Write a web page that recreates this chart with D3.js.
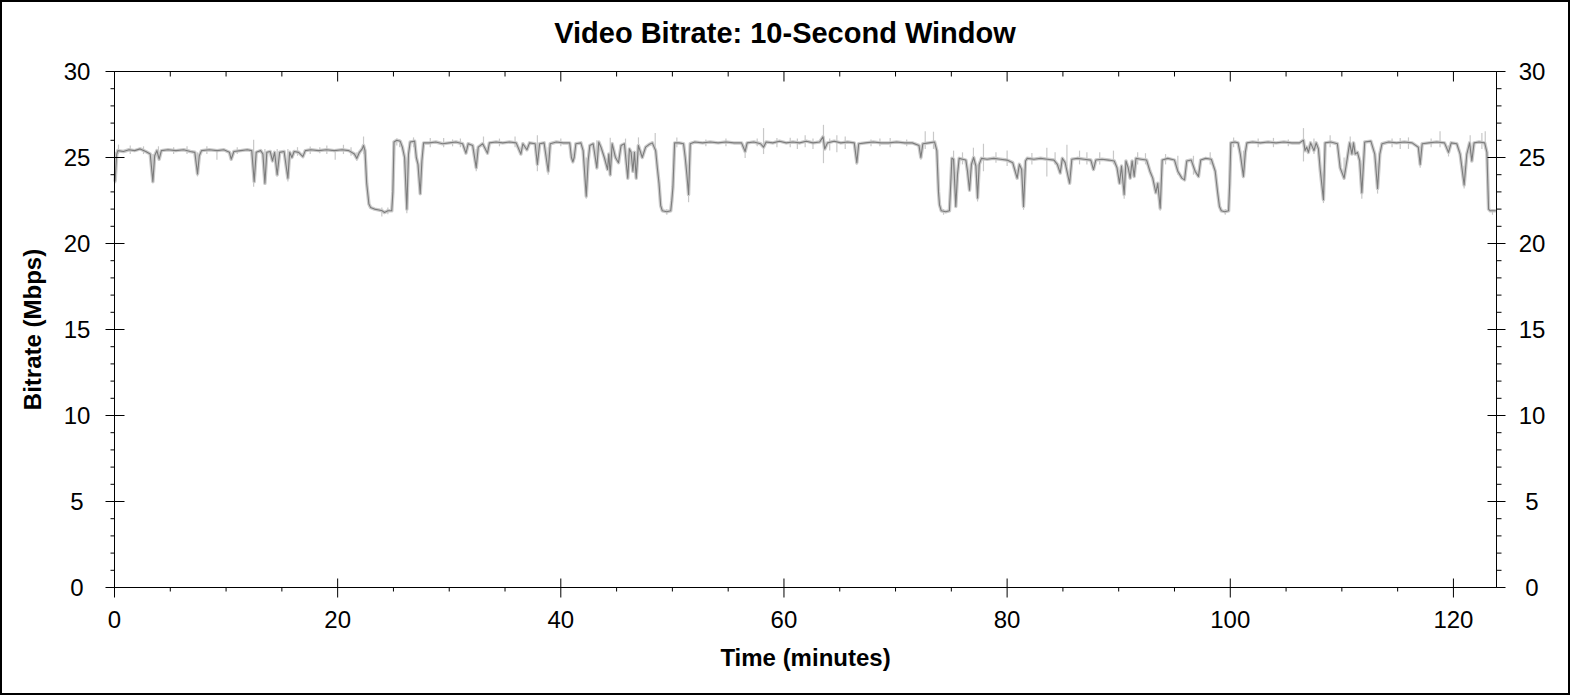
<!DOCTYPE html>
<html>
<head>
<meta charset="utf-8">
<script src="https://cdn.jsdelivr.net/npm/d3@7"></script>
<style>
  body { margin: 0; background: #fff; }
  svg { display: block; font-family: Arial, "Liberation Sans", sans-serif; }
</style>
</head>
<body>
<svg id="chart"></svg>
<script>
const chartTitle = "Video Bitrate: 10-Second Window";
const xTitle = "Time (minutes)";
const yTitle = "Bitrate (Mbps)";
const xMax = 123.86;
const yMax = 30;
const xTickLabels = [0, 20, 40, 60, 80, 100, 120];
const yTickLabels = [0, 5, 10, 15, 20, 25, 30];
const xMinorStep = 5;
const yMinorStep = 1;

// [minute, Mbps] - 10 second window average
const bitrate = [
  [0.05, 23.6], [0.2, 25.2], [0.3, 25.4], [0.8, 25.35], [1.3, 25.45], [1.8, 25.4], [2.3, 25.5], [2.8, 25.35],
  [3.2, 25.2], [3.44, 23.6], [3.6, 25.1], [3.8, 25.4], [4.0, 24.9], [4.2, 25.4], [4.8, 25.45], [5.5, 25.4],
  [6.2, 25.45], [6.8, 25.35], [7.2, 25.3], [7.44, 24.05], [7.6, 25.1], [7.8, 25.4], [8.5, 25.45], [9.2, 25.4],
  [9.8, 25.45], [10.3, 25.3], [10.46, 24.9], [10.7, 25.35], [11.3, 25.4], [11.9, 25.45], [12.3, 25.4], [12.52, 23.6],
  [12.7, 25.3], [13.1, 25.4], [13.3, 25.2], [13.48, 23.5], [13.65, 25.3], [13.95, 25.35], [14.16, 24.8], [14.35, 25.3],
  [14.58, 24.0], [14.8, 25.3], [15.2, 25.35], [15.54, 23.8], [15.7, 25.3], [15.9, 25.0], [16.1, 25.35], [16.5, 25.3],
  [16.88, 25.05], [17.1, 25.4], [17.6, 25.45], [18.3, 25.4], [19.0, 25.45], [19.7, 25.4], [20.4, 25.45], [21.0, 25.4],
  [21.5, 25.2], [21.72, 24.95], [21.95, 25.3], [22.2, 25.5], [22.32, 25.7], [22.45, 25.4], [22.6, 23.5], [22.8, 22.3],
  [22.95, 22.1], [23.3, 22.0], [23.7, 21.95], [24.0, 21.9], [24.2, 21.8], [24.5, 21.9], [24.85, 21.9], [24.95, 23.0],
  [25.05, 25.9], [25.3, 26.0], [25.6, 25.95], [25.8, 25.6], [26.0, 25.0], [26.2, 22.0], [26.35, 25.2], [26.5, 25.9],
  [26.9, 25.95], [27.05, 25.0], [27.2, 24.6], [27.4, 22.9], [27.55, 24.8], [27.7, 25.85], [28.2, 25.85], [28.8, 25.9],
  [29.4, 25.8], [30.0, 25.85], [30.6, 25.9], [31.2, 25.8], [31.5, 25.25], [31.7, 25.8], [32.1, 25.7], [32.42, 24.4],
  [32.6, 25.6], [33.0, 25.8], [33.43, 25.25], [33.6, 25.85], [34.2, 25.9], [34.8, 25.85], [35.4, 25.9], [36.0, 25.85],
  [36.42, 25.2], [36.6, 25.8], [36.96, 25.45], [37.2, 25.85], [37.7, 25.8], [37.9, 24.6], [38.1, 25.8], [38.5, 25.85],
  [38.87, 24.2], [39.05, 25.8], [39.6, 25.9], [40.2, 25.85], [40.8, 25.85], [40.95, 25.0], [41.08, 24.75], [41.2, 25.0],
  [41.35, 25.8], [41.8, 25.85], [42.0, 25.4], [42.28, 22.75], [42.45, 24.8], [42.6, 25.7], [42.9, 25.8], [43.23, 24.4],
  [43.4, 25.9], [43.6, 25.6], [43.9, 25.0], [44.19, 24.3], [44.3, 25.2], [44.43, 24.0], [44.6, 25.8], [44.9, 25.0],
  [45.17, 24.7], [45.4, 25.7], [45.7, 25.8], [46.0, 23.8], [46.15, 25.5], [46.3, 25.3], [46.46, 24.2], [46.6, 25.3],
  [46.76, 23.8], [46.95, 25.7], [47.3, 25.0], [47.6, 25.6], [47.9, 25.75], [48.2, 25.85], [48.5, 25.4], [48.65, 24.4],
  [48.8, 23.5], [48.95, 22.2], [49.1, 21.9], [49.5, 21.85], [49.85, 21.9], [49.95, 22.5], [50.05, 23.3], [50.2, 25.85],
  [50.6, 25.85], [51.0, 25.8], [51.15, 25.0], [51.3, 24.0], [51.45, 22.85], [51.6, 25.8], [52.0, 25.9], [52.7, 25.85],
  [53.4, 25.9], [54.1, 25.85], [54.8, 25.9], [55.5, 25.85], [56.2, 25.85], [56.52, 25.35], [56.7, 25.85], [57.3, 25.9],
  [57.9, 25.8], [58.17, 25.6], [58.4, 25.9], [59.0, 25.85], [59.6, 25.95], [60.2, 25.85], [60.8, 25.9], [61.4, 25.85],
  [62.0, 25.95], [62.6, 25.85], [63.2, 25.9], [63.5, 26.2], [63.65, 25.5], [63.9, 25.85], [64.5, 25.95], [65.1, 25.85],
  [65.7, 25.9], [66.3, 25.85], [66.53, 24.7], [66.7, 25.8], [67.3, 25.85], [68.0, 25.9], [68.7, 25.85], [69.4, 25.85],
  [70.1, 25.9], [70.8, 25.85], [71.5, 25.85], [72.1, 25.7], [72.27, 25.0], [72.45, 25.8], [73.0, 25.85], [73.5, 25.9],
  [73.7, 25.4], [73.85, 23.0], [73.94, 22.25], [74.1, 21.9], [74.5, 21.85], [74.83, 21.9], [74.95, 23.5], [75.05, 24.95],
  [75.2, 24.9], [75.4, 22.15], [75.55, 24.0], [75.7, 24.95], [76.0, 24.9], [76.3, 24.85], [76.45, 24.2], [76.63, 23.1],
  [76.8, 24.6], [77.0, 25.0], [77.2, 24.5], [77.35, 22.65], [77.5, 24.6], [77.7, 24.95], [78.2, 24.9], [78.8, 24.95],
  [79.4, 24.9], [80.0, 24.85], [80.5, 24.7], [80.72, 24.2], [80.9, 23.8], [81.1, 24.6], [81.3, 24.3], [81.47, 22.15],
  [81.65, 24.8], [81.8, 24.95], [82.4, 24.9], [83.0, 24.95], [83.6, 24.9], [84.2, 24.85], [84.5, 24.6], [84.76, 24.1],
  [84.95, 24.95], [85.2, 24.7], [85.6, 23.5], [85.8, 24.9], [86.3, 24.95], [86.9, 24.9], [87.5, 24.85], [87.74, 24.3],
  [87.95, 24.85], [88.5, 24.9], [89.1, 24.85], [89.6, 24.8], [89.85, 24.4], [90.07, 23.5], [90.25, 24.5], [90.49, 22.85],
  [90.65, 24.8], [90.85, 24.4], [91.03, 23.8], [91.2, 24.8], [91.39, 23.9], [91.55, 24.95], [92.0, 24.9], [92.5, 24.85],
  [92.8, 24.2], [93.05, 23.8], [93.33, 22.95], [93.5, 23.5], [93.72, 22.05], [93.9, 24.85], [94.4, 24.95], [95.0, 24.85],
  [95.3, 24.2], [95.66, 23.8], [95.9, 23.7], [96.1, 24.8], [96.5, 24.85], [96.85, 24.2], [97.15, 23.9], [97.35, 24.85],
  [97.8, 24.95], [98.3, 24.9], [98.65, 24.2], [98.86, 23.0], [99.03, 22.15], [99.2, 21.9], [99.5, 21.85], [99.85, 21.9],
  [99.95, 23.5], [100.05, 25.85], [100.4, 25.9], [100.7, 25.85], [100.9, 25.2], [101.18, 23.9], [101.35, 25.3], [101.49, 25.85],
  [102.0, 25.9], [102.7, 25.85], [103.4, 25.9], [104.1, 25.85], [104.8, 25.9], [105.5, 25.85], [106.2, 25.85], [106.56, 26.0],
  [106.7, 25.4], [106.85, 25.6], [107.0, 25.3], [107.2, 25.85], [107.5, 25.4], [107.7, 25.85], [107.9, 25.5], [108.06, 24.3],
  [108.35, 22.55], [108.5, 25.85], [109.0, 25.9], [109.6, 25.8], [109.85, 24.4], [110.2, 23.8], [110.45, 24.8], [110.7, 25.85],
  [110.9, 25.2], [111.05, 25.85], [111.2, 25.2], [111.4, 25.3], [111.6, 24.8], [111.79, 22.95], [112.05, 25.9], [112.6, 25.95],
  [112.95, 25.2], [113.2, 23.2], [113.4, 25.2], [113.6, 25.8], [114.2, 25.9], [114.9, 25.85], [115.6, 25.9], [116.3, 25.85],
  [116.85, 25.6], [117.02, 24.6], [117.2, 25.8], [117.8, 25.85], [118.5, 25.9], [119.2, 25.85], [119.56, 25.3], [119.8, 25.85],
  [120.3, 25.8], [120.6, 25.2], [120.96, 23.4], [121.2, 25.2], [121.45, 25.85], [121.65, 24.8], [121.85, 25.85], [122.3, 25.9],
  [122.8, 25.85], [123.0, 25.3], [123.15, 22.0], [123.3, 21.9], [123.8, 21.9]
];

// [minute, low, high] - excursions of the raw (unsmoothed) trace
const rawSpikes = [
  [0.1, 23.5, 25.3], [0.36, 25.2, 25.75], [1.41, 25.2, 25.7], [2.6, 25.2, 25.65], [3.44, 23.5, 25.2], [3.94, 25.0, 25.65],
  [5.3, 25.2, 25.6], [6.5, 25.2, 25.65], [7.44, 23.9, 25.3], [8.28, 25.2, 25.65], [9.18, 24.87, 25.5], [11.0, 25.2, 25.6],
  [12.47, 23.3, 26.03], [13.48, 23.4, 25.5], [14.58, 23.9, 25.5], [15.54, 23.6, 25.5], [16.4, 25.1, 25.6], [17.54, 25.2, 25.64],
  [18.4, 25.25, 25.6], [19.03, 25.2, 25.7], [19.78, 24.87, 25.5], [20.52, 25.2, 25.74], [21.2, 25.1, 25.6], [21.72, 24.8, 25.3],
  [22.32, 25.2, 26.22], [23.96, 21.57, 22.1], [24.5, 21.7, 22.1], [25.3, 25.7, 26.1], [25.55, 25.6, 26.05], [26.2, 21.76, 22.3],
  [26.8, 25.6, 26.17], [27.4, 22.8, 23.2], [28.3, 25.6, 26.14], [29.5, 25.6, 26.14], [30.3, 25.65, 26.05], [31.0, 25.6, 26.1],
  [32.42, 24.2, 25.5], [33.07, 25.6, 26.22], [34.5, 25.65, 26.1], [35.9, 25.6, 26.22], [37.9, 24.2, 26.3], [38.87, 24.0, 25.6],
  [40.0, 25.65, 26.1], [41.08, 24.67, 25.2], [42.28, 22.6, 25.0], [43.23, 24.3, 26.0], [44.43, 23.9, 26.15], [45.8, 25.3, 26.1],
  [46.96, 25.4, 26.17], [48.46, 25.3, 26.42], [49.5, 21.67, 22.0], [50.4, 25.6, 26.17], [51.45, 22.4, 23.0], [53.0, 25.65, 26.05],
  [54.8, 25.65, 26.1], [56.52, 24.97, 25.6], [57.6, 25.65, 26.1], [58.17, 25.2, 26.71], [59.37, 25.6, 26.14], [60.56, 25.6, 26.15],
  [61.2, 25.5, 26.1], [61.9, 25.6, 26.29], [62.6, 25.5, 26.1], [63.54, 24.67, 26.9], [64.1, 25.4, 26.1], [64.74, 25.3, 26.29],
  [65.49, 25.5, 26.22], [66.53, 24.58, 25.5], [67.8, 25.65, 26.05], [68.6, 25.65, 26.1], [69.52, 25.6, 26.14], [71.0, 25.65, 26.05],
  [72.27, 24.87, 25.6], [72.66, 25.5, 26.52], [73.4, 25.5, 26.5], [74.3, 21.67, 22.0], [75.2, 24.6, 25.4], [76.0, 24.6, 25.3],
  [76.98, 24.6, 25.57], [77.35, 22.44, 24.0], [77.88, 24.2, 25.8], [79.0, 24.7, 25.3], [80.0, 24.5, 25.4], [81.47, 21.96, 22.4],
  [82.22, 24.6, 25.26], [83.56, 23.9, 25.56], [84.3, 24.6, 25.3], [85.36, 24.5, 25.74], [86.49, 24.6, 25.4], [87.15, 24.6, 25.3],
  [88.3, 24.6, 25.3], [89.53, 24.6, 25.4], [90.49, 22.6, 24.0], [91.7, 24.6, 25.3], [92.4, 24.6, 25.25], [93.72, 21.9, 22.4],
  [94.2, 24.6, 25.2], [95.3, 24.0, 25.1], [96.7, 24.0, 25.1], [98.2, 24.6, 25.3], [99.55, 21.67, 22.0], [100.3, 25.6, 26.17],
  [101.18, 23.8, 25.4], [102.5, 25.6, 26.1], [103.87, 25.6, 26.14], [105.2, 25.65, 26.05], [106.56, 24.77, 26.71], [107.5, 25.2, 26.1],
  [108.35, 22.35, 24.0], [108.95, 25.6, 26.29], [110.2, 23.7, 25.0], [110.75, 25.5, 26.22], [111.79, 22.6, 24.0], [113.2, 22.9, 24.5],
  [114.5, 25.6, 26.1], [115.23, 25.5, 26.14], [115.97, 25.5, 26.17], [117.02, 24.4, 25.6], [118.0, 25.6, 26.1], [118.8, 25.6, 26.52],
  [119.56, 25.06, 25.7], [120.96, 23.2, 24.5], [121.5, 25.4, 26.29], [122.55, 25.5, 26.42], [122.85, 25.5, 26.52], [123.5, 21.67, 22.0]
];

const width = 1570, height = 695;
const margin = { top: 71.5, right: 73.5, bottom: 107.5, left: 114.5 };

const svg = d3.select('#chart').attr('width', width).attr('height', height);

const x = d3.scaleLinear().domain([0, xMax]).range([margin.left, width - margin.right]);
const y = d3.scaleLinear().domain([0, yMax]).range([height - margin.bottom, margin.top]);

const xMinor = d3.range(0, xMax, xMinorStep).filter(v => !xTickLabels.includes(v));
const yMinor = d3.range(0, yMax, yMinorStep).filter(v => !yTickLabels.includes(v));

// outer frame
svg.append('rect')
  .attr('x', 1).attr('y', 1)
  .attr('width', width - 2).attr('height', height - 2)
  .attr('fill', '#fff')
  .attr('stroke', '#000')
  .attr('stroke-width', 2);

// data
const plot = svg.append('g');

const line = d3.line().x(d => x(d[0])).y(d => y(d[1]));

plot.append('path')
  .datum(bitrate)
  .attr('d', line)
  .attr('fill', 'none')
  .attr('stroke', '#cccccc')
  .attr('stroke-width', 3.5)
  .attr('stroke-linejoin', 'round');

plot.selectAll('.spike')
  .data(rawSpikes)
  .enter().append('line')
  .attr('class', 'spike')
  .attr('x1', d => x(d[0])).attr('x2', d => x(d[0]))
  .attr('y1', d => y(d[1])).attr('y2', d => y(d[2]))
  .attr('stroke', '#c8c8c8')
  .attr('stroke-width', 1.2);

plot.append('path')
  .datum(bitrate)
  .attr('d', line)
  .attr('fill', 'none')
  .attr('stroke', '#7c7c7c')
  .attr('stroke-width', 1.1)
  .attr('stroke-linejoin', 'round');

// axes: ticks only, labels are drawn separately
function ticks(axis, values, size) {
  return axis.tickValues(values).tickSize(size).tickSizeOuter(0).tickFormat('').offset(0);
}
function addAxis(axis, tx, ty, showDomain) {
  const g = svg.append('g').attr('transform', `translate(${tx},${ty})`).call(axis);
  if (!showDomain) g.select('.domain').remove();
  g.selectAll('line').attr('stroke', '#000');
  g.select('.domain').attr('stroke', '#000');
  return g;
}

const bottom = height - margin.bottom;
const right = width - margin.right;

// bottom
addAxis(ticks(d3.axisBottom(x), xTickLabels, 10), 0, bottom, true);
addAxis(ticks(d3.axisTop(x), xTickLabels, 9), 0, bottom, false);
addAxis(ticks(d3.axisBottom(x), xMinor, 4), 0, bottom, false);
// top
addAxis(ticks(d3.axisTop(x), xTickLabels, -10), 0, margin.top, true);
addAxis(ticks(d3.axisTop(x), xMinor, -5), 0, margin.top, false);
// left
addAxis(ticks(d3.axisLeft(y), yTickLabels, 9), margin.left, 0, true);
addAxis(ticks(d3.axisRight(y), yTickLabels, 10), margin.left, 0, false);
addAxis(ticks(d3.axisLeft(y), yMinor, 4), margin.left, 0, false);
// right
addAxis(ticks(d3.axisRight(y), yTickLabels, 9), right, 0, true);
addAxis(ticks(d3.axisLeft(y), yTickLabels, 9), right, 0, false);
addAxis(ticks(d3.axisRight(y), yMinor, 5), right, 0, false);

// tick labels
const labels = svg.append('g')
  .attr('font-size', 24)
  .attr('fill', '#000')
  .attr('text-anchor', 'middle');

labels.selectAll('.xl')
  .data(xTickLabels)
  .enter().append('text')
  .attr('x', d => x(d))
  .attr('y', bottom + 40)
  .text(d => d);

labels.selectAll('.yl')
  .data(yTickLabels)
  .enter().append('text')
  .attr('x', 77)
  .attr('y', d => y(d) + 8.5)
  .text(d => d);

labels.selectAll('.yr')
  .data(yTickLabels)
  .enter().append('text')
  .attr('x', 1532)
  .attr('y', d => y(d) + 8.5)
  .text(d => d);

// titles
svg.append('text')
  .attr('x', width / 2)
  .attr('y', 43)
  .attr('text-anchor', 'middle')
  .attr('font-size', 29)
  .attr('font-weight', 'bold')
  .text(chartTitle);

svg.append('text')
  .attr('x', (margin.left + right) / 2)
  .attr('y', 666)
  .attr('text-anchor', 'middle')
  .attr('font-size', 24)
  .attr('font-weight', 'bold')
  .text(xTitle);

svg.append('text')
  .attr('transform', `translate(41,${(margin.top + bottom) / 2}) rotate(-90)`)
  .attr('text-anchor', 'middle')
  .attr('font-size', 24)
  .attr('font-weight', 'bold')
  .text(yTitle);
</script>
</body>
</html>
